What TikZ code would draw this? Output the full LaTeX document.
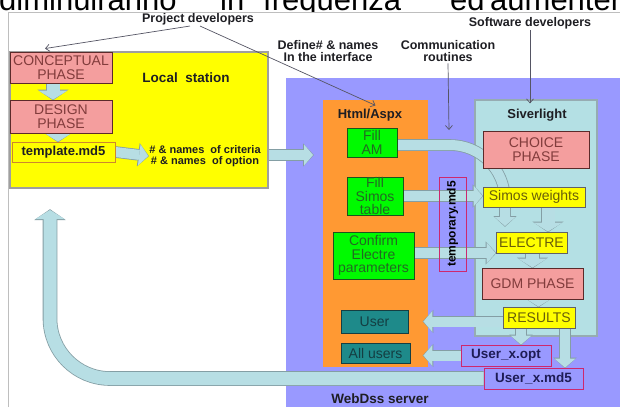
\documentclass[tikz,border=0pt]{standalone}
\usepackage{fontspec}
\setmainfont{Liberation Sans}
\usetikzlibrary{arrows.meta,positioning,calc}
\definecolor{ink}{RGB}{30,30,35}
\definecolor{frame}{RGB}{190,190,190}
\definecolor{stationY}{RGB}{255,255,0}
\definecolor{serverP}{RGB}{153,153,255}
\definecolor{htmlO}{RGB}{255,153,51}
\definecolor{silverB}{RGB}{180,224,228}
\definecolor{silverE}{RGB}{150,172,178}
\definecolor{phaseR}{RGB}{244,158,158}
\definecolor{phaseT}{RGB}{130,60,60}
\definecolor{fillG}{RGB}{0,250,0}
\definecolor{fillT}{RGB}{35,105,35}
\definecolor{resY}{RGB}{255,255,0}
\definecolor{resT}{RGB}{105,95,10}
\definecolor{userC}{RGB}{30,138,138}
\definecolor{userT}{RGB}{20,62,66}
\definecolor{fileR}{RGB}{205,40,110}
\definecolor{fileT}{RGB}{30,28,85}
\definecolor{tmplE}{RGB}{205,135,45}
\definecolor{bandF}{RGB}{183,222,228}
\definecolor{bandE}{RGB}{132,158,164}
\definecolor{note}{RGB}{85,85,100}
\pgfdeclarelayer{back}
\pgfdeclarelayer{bands}
\pgfsetlayers{back,bands,main}
\tikzset{
  area/.style={inner sep=0pt,line width=1.2pt},
  box/.style={draw=#1,line width=0.9pt,inner sep=0pt,align=center,
    font=\fontsize{14}{13.5}\selectfont},
  phase/.style={box=phaseT!70!black,fill=phaseR,text=phaseT},
  fillbox/.style={box=fillT!80!black,fill=fillG,text=fillT},
  resbox/.style={box=ink!70,fill=resY,text=resT},
  userbox/.style={box=userT,fill=userC,text=userT},
  filebox/.style={draw=fileR,line width=0.8pt,inner sep=0pt,text=fileT,
    font=\bfseries\fontsize{13.5}{14}\selectfont},
  lbl/.style={inner sep=1pt,align=center,text=ink,font=\bfseries\fontsize{12.5}{12}\selectfont},
  ptr/.style={draw=note,line width=0.7pt,-{Straight Barb[length=4pt,width=7pt]}},
  blk/.style={draw=bandF,line width=10pt,-{Triangle[length=9pt,width=21pt,line width=0pt]},
    preaction={draw=bandE,line width=11.6pt,shorten >=-0.8pt,
      -{Triangle[length=10.8pt,width=23.4pt,line width=0pt]}}},
  fatblk/.style={draw=bandF,line width=13pt,-{Triangle[length=9pt,width=29pt,line width=0pt]},
    preaction={draw=bandE,line width=14.6pt,shorten >=-0.8pt,
      -{Triangle[length=10.8pt,width=31.4pt,line width=0pt]}}},
}

\begin{document}
\begin{tikzpicture}[x=1pt,y=-1pt]
\useasboundingbox (0,0) rectangle (620,407);
\clip (0,0) rectangle (620,407);
\begin{pgfonlayer}{back}
\fill[white] (0,0) rectangle (620,407);
% cut-off line of the page above
\begin{scope}
  \clip (0,0) rectangle (620,11.5);
  \foreach \x/\w in {-1/diminuiranno,220/in,263/frequenza,450/ed,490/aumentera}
    \node[anchor=base west,inner sep=0pt,font=\fontsize{31}{31}\selectfont] (top\x) at (\x,10) {\w};
\end{scope}
\draw[frame,line width=1pt] (8,407) -- (8,12.5) -- (620,12.5);
% containers
\node[area,fill=stationY,draw=gray!75,minimum width=258pt,minimum height=136pt] (station) at (139,120) {};
\node[area,fill=serverP,minimum width=334pt,minimum height=329pt] (server) at (453,242.5) {};
\node[area,fill=htmlO,minimum width=105pt,minimum height=267pt] (html) at (375.5,233.5) {};
\node[area,fill=silverB,draw=silverE,minimum width=122pt,minimum height=236pt] (siver) at (536,218) {};
\end{pgfonlayer}

% top labels
\node[lbl] (projdev) at (198,19) {Project developers};
\node[lbl] (softdev) at (530,23) {Software developers};
\node[lbl] (define) at (328,51) {Define\# \& names\\In the interface};
\node[lbl] (comm) at (448,51.5) {Communication\\routines};

% local station
\node[lbl,font=\bfseries\fontsize{13.5}{14}\selectfont] (stationlbl) at (186,78) {Local\ \ station};
\node[phase,minimum width=102pt,minimum height=31pt] (concept) at (61,67.5) {CONCEPTUAL\\PHASE};
\node[phase,minimum width=102pt,minimum height=33pt] (design) at (61,116.5) {DESIGN\\PHASE};
\node[box=tmplE,fill=stationY,text=ink,minimum width=103pt,minimum height=20pt,
  font=\bfseries\fontsize{13}{13}\selectfont] (template) at (63.5,152) {template.md5};
\node[lbl,font=\bfseries\fontsize{11}{11}\selectfont] (names) at (205,156.5)
  {\# \& names\ \ of criteria\\\# \& names\ \ of option};

% html / aspx
\node[lbl,font=\bfseries\fontsize{13}{13}\selectfont] (htmllbl) at (370,115) {Html/Aspx};
\node[fillbox,minimum width=50pt,minimum height=29pt] (fillam) at (372,142.5) {Fill\\AM};
\node[fillbox,minimum width=56pt,minimum height=38pt] (fillsimos) at (375,196) {Fill\\Simos\\table};
\node[fillbox,minimum width=81pt,minimum height=47pt] (confirm) at (373.5,255.5) {Confirm\\Electre\\parameters};
\node[userbox,minimum width=67pt,minimum height=23pt] (user) at (374.5,321.5) {User};
\node[userbox,minimum width=69pt,minimum height=20pt] (allusers) at (375.5,353) {All users};
\node[filebox,text=black,rotate=90,minimum width=94pt,minimum height=27pt,
  font=\bfseries\fontsize{12}{12}\selectfont] (temp) at (452.5,224) {temporary.md5};

% siverlight
\node[lbl,font=\bfseries\fontsize{13}{13}\selectfont] (siverlbl) at (537,115) {Siverlight};
\node[phase,minimum width=106pt,minimum height=37pt] (choice) at (536,149.5) {CHOICE\\PHASE};
\node[resbox,minimum width=102pt,minimum height=20pt] (simosw) at (534,197) {Simos weights};
\node[resbox,minimum width=71pt,minimum height=21pt] (electre) at (531.5,242.5) {ELECTRE};
\node[phase,minimum width=101pt,minimum height=31pt] (gdm) at (532.5,283.5) {GDM PHASE};
\node[resbox,minimum width=72pt,minimum height=21pt] (results) at (539,317.5) {RESULTS};
\node[filebox,fill=serverP,minimum width=90pt,minimum height=21pt] (uopt) at (506,355.5) {User\_x.opt};
\node[filebox,fill=serverP,minimum width=99pt,minimum height=21pt] (umd5) at (533.5,378.5) {User\_x.md5};
\node[lbl,font=\bfseries\fontsize{13.5}{14}\selectfont] (serverlbl) at (380,399) {WebDss server};

% pointers
\coordinate (commend) at (449,130);
\draw[ptr] ([xshift=-8pt]projdev.south) -- ([xshift=-16pt,yshift=3pt]concept.north);
\draw[ptr] ([xshift=2pt]projdev.south) -- ([yshift=-6pt]html.north);
\draw[ptr] (softdev.south) -- ([yshift=-4pt]softdev.south |- siver.north);
\draw[ptr] (comm.south) -- (commend);

% block arrows
\coordinate (srvin) at (313,155);
\coordinate (amtip) at (505,226);
\coordinate (looptip) at (50,210);
\begin{pgfonlayer}{bands}
\draw[fatblk] ([xshift=-8pt]concept.south) -- ([xshift=-8pt]design.north);
\draw[fatblk] ([xshift=-3pt]design.south) -- ([xshift=-3pt]design.south |- template.north);
\draw[blk] (template.east) -- ([yshift=-4pt]names.west |- template.east);
\draw[blk] ([yshift=-35pt]station.east) -- (srvin);
\draw[blk,rounded corners=55pt] ([yshift=-2.5pt]fillam.east) -| (amtip);
\draw[blk] (fillsimos.east) -- (fillsimos.east -| simosw.west);
\draw[blk] ([yshift=2.5pt]confirm.east) -- ([yshift=2.5pt]confirm.east -| electre.west);
\draw[fatblk] ([xshift=14pt]simosw.south) -- ([xshift=14pt]simosw.south |- electre.north);
\draw[fatblk] ([xshift=1pt]electre.south) -- ([xshift=1pt]electre.south |- gdm.north);
\draw[fatblk] ([xshift=6pt]gdm.south) -- ([xshift=6pt]gdm.south |- results.north);
\draw[blk] ([yshift=-4pt]results.west) -- ([xshift=15pt,yshift=-4pt]results.west -| user.east);
\draw[blk] ([xshift=-18pt]results.south) -- ([xshift=-18pt]results.south |- uopt.north);
\draw[blk] ([xshift=26pt]results.south) -- ([xshift=26pt]results.south |- umd5.north);
\draw[blk] (uopt.west) -- ([xshift=13pt]uopt.west -| allusers.east);
\draw[fatblk,rounded corners=60pt] (umd5.west) -| (looptip);
\end{pgfonlayer}
\end{tikzpicture}
\end{document}
